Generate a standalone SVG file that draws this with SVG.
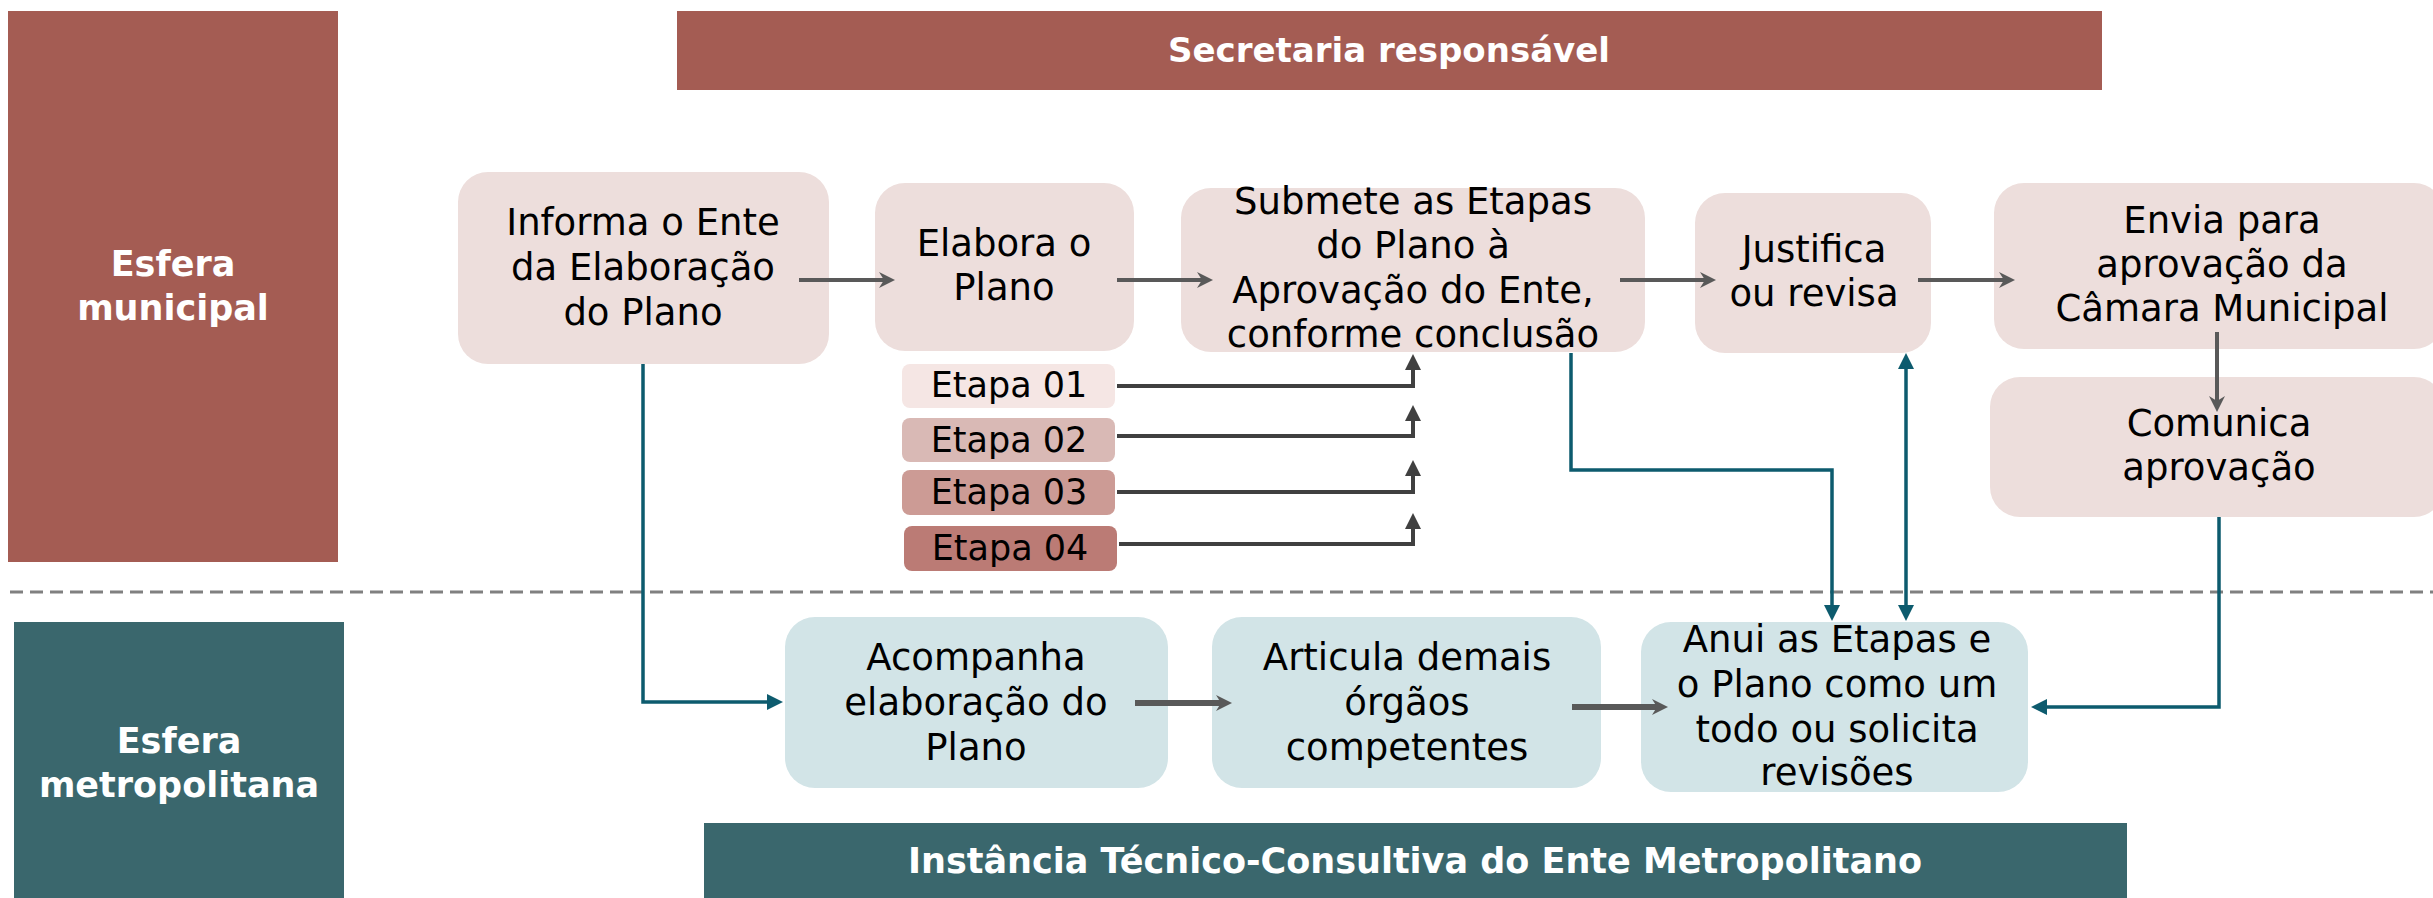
<svg xmlns="http://www.w3.org/2000/svg" width="2433" height="898" viewBox="0 0 2433 898">
<style>
.t{font-family:"DejaVu Sans","Noto Sans",sans-serif;font-size:37px;fill:#000;text-anchor:middle}
.e{font-size:35px}
.h{font-family:"DejaVu Sans","Noto Sans",sans-serif;font-weight:bold;fill:#fff;text-anchor:middle}
.pk{fill:#EDDEDC}
.bl{fill:#D2E4E7}
.g{fill:none;stroke:#595959;stroke-width:4}
.gt{fill:none;stroke:#595959;stroke-width:6}
.d{fill:none;stroke:#404040;stroke-width:4}
.c{fill:none;stroke:#0D5B6E;stroke-width:3.5}
</style>
<defs>
<marker id="ag" viewBox="0 0 16 16" refX="5" refY="8" markerWidth="16" markerHeight="16" markerUnits="userSpaceOnUse" orient="auto"><path d="M0,0 L16,8 L0,16 L5,8 Z" fill="#595959"/></marker>
<marker id="at" viewBox="0 0 16 16" refX="1" refY="8" markerWidth="16" markerHeight="16" markerUnits="userSpaceOnUse" orient="auto-start-reverse"><path d="M0,0 L16,8 L0,16 Z" fill="#0D5B6E"/></marker>
<marker id="ad" viewBox="0 0 16 16" refX="1" refY="8" markerWidth="16" markerHeight="16" markerUnits="userSpaceOnUse" orient="auto"><path d="M0,0 L16,8 L0,16 Z" fill="#404040"/></marker>
</defs>

<g id="esfera-municipal">
<rect x="8" y="11" width="330" height="551" fill="#A45C53"/>
<text class="h" font-size="35" x="173" y="276">Esfera</text>
<text class="h" font-size="35" x="173" y="320">municipal</text>
</g>
<g id="esfera-metropolitana">
<rect x="14" y="622" width="330" height="276" fill="#3A676D"/>
<text class="h" font-size="35" x="179" y="753">Esfera</text>
<text class="h" font-size="35" x="179" y="797">metropolitana</text>
</g>
<g id="secretaria">
<rect x="677" y="11" width="1425" height="79" fill="#A45C53"/>
<text class="h" font-size="34" x="1389" y="62">Secretaria responsável</text>
</g>
<g id="instancia">
<rect x="704" y="823" width="1423" height="75" fill="#3A676D"/>
<text class="h" font-size="35" x="1415" y="873">Instância Técnico-Consultiva do Ente Metropolitano</text>
</g>

<line id="divisor" x1="10" y1="592" x2="2433" y2="592" stroke="#808080" stroke-width="3" stroke-dasharray="13 7"/>

<g id="informa">
<rect class="pk" x="458" y="172" width="371" height="192" rx="30"/>
<text class="t" x="643" y="235">Informa o Ente</text>
<text class="t" x="643" y="280">da Elaboração</text>
<text class="t" x="643" y="325">do Plano</text>
</g>
<g id="elabora">
<rect class="pk" x="875" y="183" width="259" height="168" rx="30"/>
<text class="t" x="1004" y="256">Elabora o</text>
<text class="t" x="1004" y="300">Plano</text>
</g>
<g id="submete">
<rect class="pk" x="1181" y="188" width="464" height="164" rx="30"/>
<text class="t" x="1413" y="214">Submete as Etapas</text>
<text class="t" x="1413" y="258">do Plano à</text>
<text class="t" x="1413" y="303">Aprovação do Ente,</text>
<text class="t" x="1413" y="347">conforme conclusão</text>
</g>
<g id="justifica">
<rect class="pk" x="1695" y="193" width="236" height="160" rx="30"/>
<text class="t" x="1814" y="262">Justifica</text>
<text class="t" x="1814" y="306">ou revisa</text>
</g>
<g id="envia">
<rect class="pk" x="1994" y="183" width="450" height="166" rx="30"/>
<text class="t" x="2222" y="233">Envia para</text>
<text class="t" x="2222" y="277">aprovação da</text>
<text class="t" x="2222" y="321">Câmara Municipal</text>
</g>
<g id="comunica">
<rect class="pk" x="1990" y="377" width="454" height="140" rx="30"/>
<text class="t" x="2219" y="436">Comunica</text>
<text class="t" x="2219" y="480">aprovação</text>
</g>
<g id="etapa01">
<rect x="902" y="364" width="213" height="44" rx="8" fill="#F5E6E4"/>
<text class="t e" x="1009" y="397">Etapa 01</text>
</g>
<g id="etapa02">
<rect x="902" y="418" width="213" height="44" rx="8" fill="#D9B9B5"/>
<text class="t e" x="1009" y="452">Etapa 02</text>
</g>
<g id="etapa03">
<rect x="902" y="470" width="213" height="45" rx="8" fill="#CC9B95"/>
<text class="t e" x="1009" y="504">Etapa 03</text>
</g>
<g id="etapa04">
<rect x="904" y="526" width="213" height="45" rx="8" fill="#BB7B75"/>
<text class="t e" x="1010" y="560">Etapa 04</text>
</g>
<g id="acompanha">
<rect class="bl" x="785" y="617" width="383" height="171" rx="30"/>
<text class="t" x="976" y="670">Acompanha</text>
<text class="t" x="976" y="715">elaboração do</text>
<text class="t" x="976" y="760">Plano</text>
</g>
<g id="articula">
<rect class="bl" x="1212" y="617" width="389" height="171" rx="30"/>
<text class="t" x="1407" y="670">Articula demais</text>
<text class="t" x="1407" y="715">órgãos</text>
<text class="t" x="1407" y="760">competentes</text>
</g>
<g id="anui">
<rect class="bl" x="1641" y="622" width="387" height="170" rx="30"/>
<text class="t" x="1837" y="652">Anui as Etapas e</text>
<text class="t" x="1837" y="697">o Plano como um</text>
<text class="t" x="1837" y="742">todo ou solicita</text>
<text class="t" x="1837" y="785">revisões</text>
</g>

<g id="connectors">
<path class="g" d="M799,280 H884" marker-end="url(#ag)"/>
<path class="g" d="M1117,280 H1202" marker-end="url(#ag)"/>
<path class="g" d="M1620,280 H1705" marker-end="url(#ag)"/>
<path class="g" d="M1918,280 H2004" marker-end="url(#ag)"/>
<path class="g" stroke-width="3.5" d="M2217,332 V401" marker-end="url(#ag)"/>
<path class="gt" d="M1135,703 H1221" marker-end="url(#ag)"/>
<path class="gt" d="M1572,707 H1657" marker-end="url(#ag)"/>
<path class="d" d="M1117,386 H1413 V369" marker-end="url(#ad)"/>
<path class="d" d="M1117,436 H1413 V420" marker-end="url(#ad)"/>
<path class="d" d="M1117,492 H1413 V475" marker-end="url(#ad)"/>
<path class="d" d="M1119,544 H1413 V528" marker-end="url(#ad)"/>
<path class="c" d="M643,364 V702 H768" marker-end="url(#at)"/>
<path class="c" d="M1571,353 V470 H1832 V606" marker-end="url(#at)"/>
<path class="c" d="M1906,368 V606" marker-start="url(#at)" marker-end="url(#at)"/>
<path class="c" d="M2219,517 V707 H2046" marker-end="url(#at)"/>
</g>
</svg>
